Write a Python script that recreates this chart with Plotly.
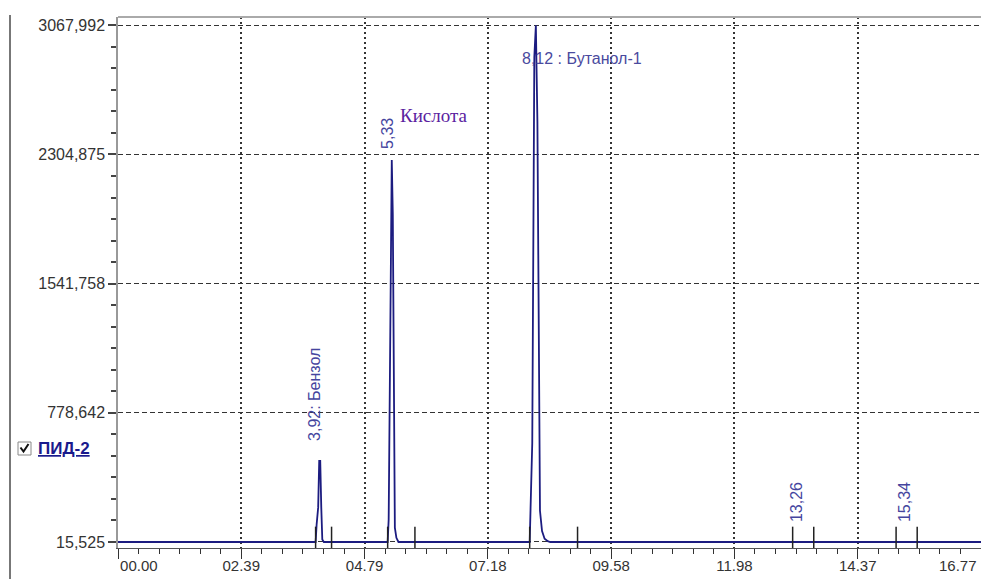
import plotly.graph_objects as go

# ---------------- data ----------------
# chromatogram signal (time in minutes, signal in mV-like units)
time_min = [0.00, 3.84, 3.86, 3.89, 3.91, 3.93, 3.95, 3.97, 4.00,
            5.24, 5.26, 5.28, 5.30, 5.32, 5.34, 5.36, 5.38, 5.41, 5.45,
            8.00, 8.02, 8.05, 8.09, 8.12, 8.15, 8.18, 8.20, 8.24, 8.29, 8.35, 8.40,
            16.77]
signal = [15.5, 15.5, 120, 220, 495, 495, 220, 30, 15.5,
          15.5, 150, 1000, 1950, 2272, 1950, 980, 100, 40, 15.5,
          15.5, 200, 600, 2880, 3068, 2500, 900, 200, 80, 35, 20, 15.5,
          15.5]

# peak boundary marker times
boundary_times = [3.84, 4.15, 5.24, 5.77, 8.00, 8.93, 13.11, 13.52, 15.12, 15.53]

# tick labels
y_tickvals = [15.525, 778.642, 1541.758, 2304.875, 3067.992]
y_ticktext = ["15,525", "778,642", "1541,758", "2304,875", "3067,992"]
x_max = 16.77
x_tickvals = [0.0, 2.3957, 4.7914, 7.1871, 9.5829, 11.9786, 14.3743, 16.77]
x_ticktext = ["00.00", "02.39", "04.79", "07.18", "09.58", "11.98", "14.37", "16.77"]

# peak labels: (text, x, y, angle)
peak_labels = [
    ("3,92: Бензол", 3.83, 885, -90),
    ("5,33", 5.24, 2430, -90),
    ("13,26", 13.20, 253, -90),
    ("15,34", 15.28, 253, -90),
]

# ---------------- figure ----------------
W, H = 981, 579
ML, MR, MT, MB = 118, 0, 17, 31
PW, PH = W - ML - MR, H - MT - MB


def px(xp):
    return (xp - ML) / PW


def py(yp):
    return (H - MB - yp) / PH


NAVY = "#1c1c80"
FONT = "Liberation Sans, Arial, sans-serif"

fig = go.Figure()

fig.add_trace(go.Scatter(x=time_min, y=signal, mode="lines",
                         line=dict(color=NAVY, width=1.8), hoverinfo="skip",
                         showlegend=False))

bx, by = [], []
for t in boundary_times:
    bx += [t, t, None]
    by += [-20, 106, None]
fig.add_trace(go.Scatter(x=bx, y=by, mode="lines",
                         line=dict(color="#222222", width=1.5), hoverinfo="skip",
                         showlegend=False))

nb = "\u00a0"
x_ticktext_disp = list(x_ticktext)
x_ticktext_disp[0] = nb * 10 + x_ticktext[0]
x_ticktext_disp[-1] = ""  # last label placed inside the edge below

fig.update_layout(
    width=W, height=H,
    margin=dict(l=ML, r=MR, t=MT, b=MB, autoexpand=False),
    paper_bgcolor="white", plot_bgcolor="white",
    showlegend=False,
    font=dict(family=FONT, size=16, color="#333333"),
    xaxis=dict(
        range=[0, x_max + 1e-6], tickmode="array", tickvals=x_tickvals, ticktext=x_ticktext_disp,
        showgrid=True, gridcolor="#333333", gridwidth=1.5, griddash="2px,3px",
        zeroline=False, showline=True, linecolor="#555555", linewidth=1,
        ticks="outside", ticklen=10, tickwidth=1.3, tickcolor="#333333",
        minor=dict(tick0=0, dtick=x_max / 42, ticks="outside", ticklen=5,
                   tickcolor="#333333", tickwidth=1.3, showgrid=False),
        tickfont=dict(family=FONT, size=15, color="#333333"),
        ticklabelstandoff=-6,
        ticklabeloverflow="allow", automargin=False,
        fixedrange=True,
    ),
    yaxis=dict(
        range=[-20, 3117], tickmode="array", tickvals=y_tickvals, ticktext=y_ticktext,
        showgrid=True, gridcolor="#333333", gridwidth=1.3, griddash="5px,3px",
        zeroline=False, showline=True, linecolor="#999999", linewidth=1.5,
        ticks="outside", ticklen=8, tickwidth=1.5, tickcolor="#444444",
        minor=dict(tick0=15.525, dtick=763.117 / 6, ticks="outside", ticklen=5,
                   tickcolor="#444444", tickwidth=1.5, showgrid=False),
        tickfont=dict(family=FONT, size=16, color="#333333"),
        automargin=False,
        fixedrange=True,
    ),
)

# last x tick label, kept inside the page edge
fig.add_annotation(x=1, y=py(565), xref="paper", yref="paper", text=x_ticktext[-1],
                   showarrow=False, xanchor="right", yanchor="middle", xshift=-2,
                   font=dict(family=FONT, size=15, color="#333333"))

# peak labels
for text, x, y, ang in peak_labels:
    fig.add_annotation(x=x, y=y, xref="x", yref="y", text=text, textangle=ang,
                       showarrow=False, xanchor="center", yanchor="middle",
                       font=dict(family=FONT, size=16, color="#45459e"))

fig.add_annotation(x=5.437, y=2536, xref="x", yref="y", text="Кислота",
                   showarrow=False, xanchor="left", yanchor="middle",
                   font=dict(family="Liberation Serif, Times New Roman, serif", size=19,
                             color="#5a22a0"))
fig.add_annotation(x=7.806, y=2873, xref="x", yref="y", text="8,12 : Бутанол-1",
                   showarrow=False, xanchor="left", yanchor="middle",
                   font=dict(family=FONT, size=16, color="#4a4a9e"))

# channel label
fig.add_annotation(x=px(36), y=py(448), xref="paper", yref="paper",
                   text="<b><u>ПИД-2</u></b>", showarrow=False,
                   xanchor="left", yanchor="middle",
                   font=dict(family=FONT, size=17, color="#1a1a8c"))

# frame decorations
fig.add_shape(type="line", xref="paper", yref="paper", x0=0, x1=1, y0=1, y1=1,
              line=dict(color="#aaaaaa", width=2))
fig.add_shape(type="line", xref="paper", yref="paper", x0=px(10), x1=px(10),
              y0=py(15), y1=py(579), line=dict(color="#777777", width=2))
# checkbox
fig.add_shape(type="rect", xref="paper", yref="paper", x0=px(18), x1=px(31),
              y0=py(455), y1=py(442), line=dict(color="#888888", width=1),
              fillcolor="white")
fig.add_shape(type="path", xref="paper", yref="paper",
              path=f"M {px(20.5)},{py(447.5)} L {px(23.5)},{py(451.5)} L {px(28.5)},{py(444)}",
              line=dict(color="#111111", width=2))

fig.write_html("out.html")
